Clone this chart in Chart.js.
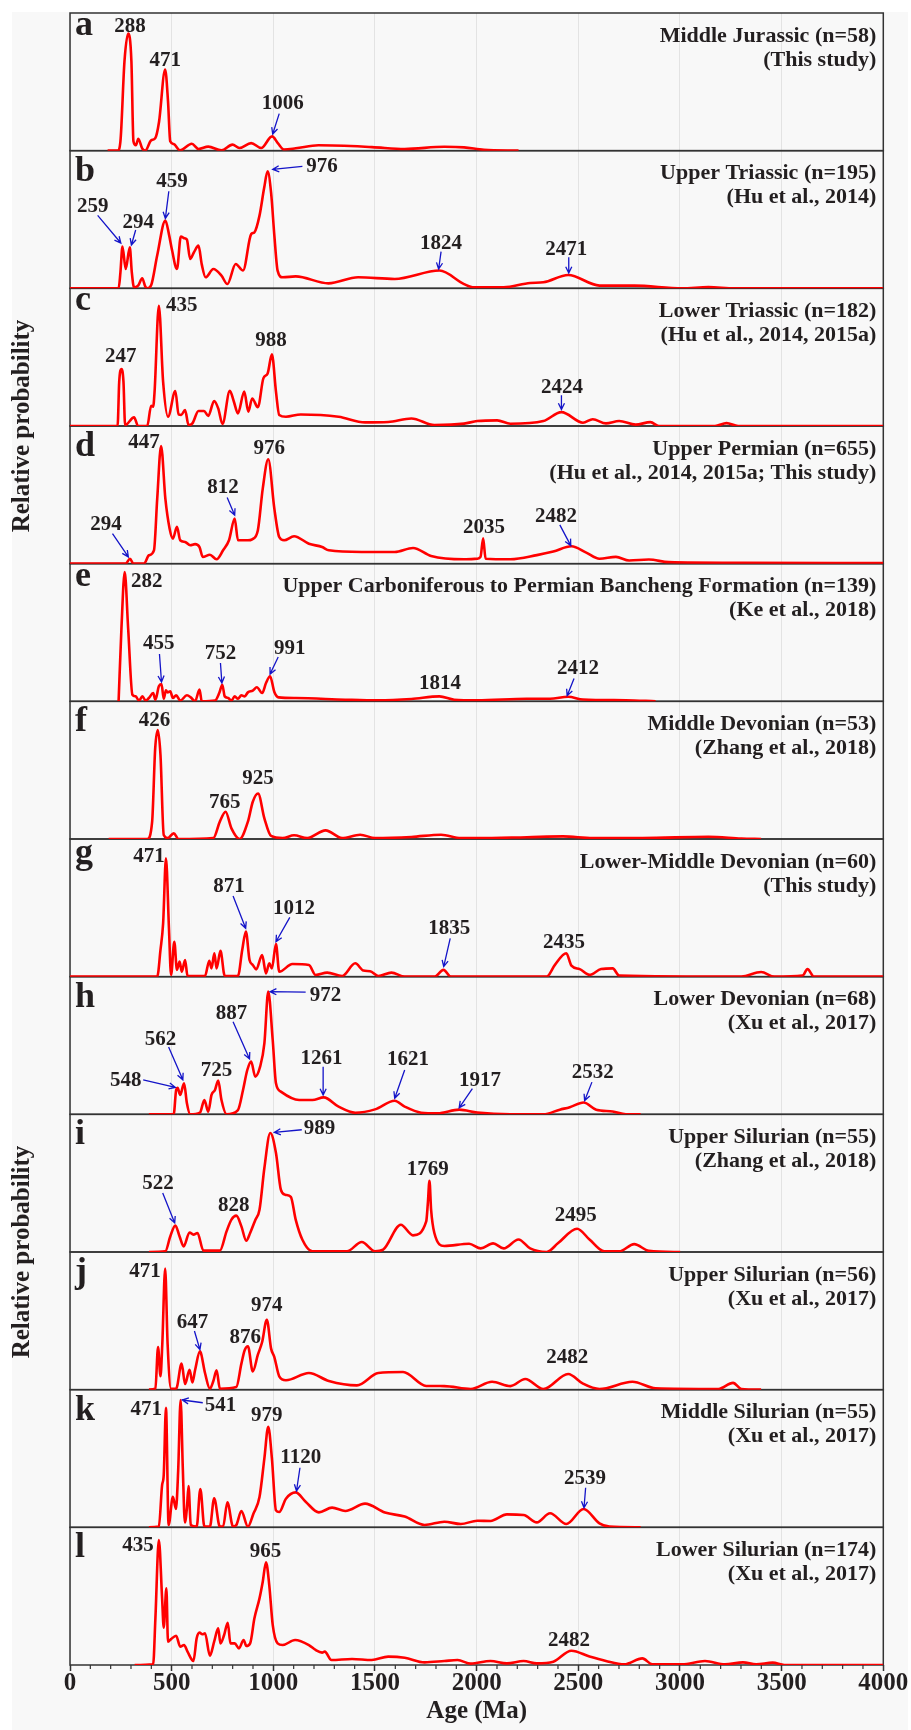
<!DOCTYPE html>
<html>
<head>
<meta charset="utf-8">
<script src="https://cdn.jsdelivr.net/npm/chart.js@4.4.1/dist/chart.umd.min.js"></script>
<style>
  html, body { margin: 0; padding: 0; background: #fff; }
  canvas { display: block; }
</style>
</head>
<body>
<canvas id="agesChart" width="911" height="1730"></canvas>
<script>
// edades (Ma) y probabilidad relativa (% de la altura del panel)
const ageA = [185,234,248,268,286,302,312,324,336,355,370,399,419,438,468,482,493,510,541,599,632,680,745,799,833,891,940,994,1023,1052,1110,1222,1485,1646,1841,1938,2036,2206];
const probA = [0,0,6.8,65,85,65,6.8,3.9,8.7,1.7,0,7.5,9,21,59,36,6.8,4.8,0.2,5,1.2,2.9,0.2,4.4,1.9,5.5,1.9,10.4,5.3,0.9,1.7,3.9,2.6,1.2,2.8,2.4,0.6,0];

const ageB = [0,239,248,258,274,294,304,315,336,355,370,380,399,429,469,487,502,526,545,565,575,591,609,632,648,667,705,745,774,815,851,891,907,932,955,972,989,1005,1021,1046,1110,1271,1417,1597,1817,1938,1987,2133,2263,2328,2450,2604,2775,3010,3140,3268,4000];
const probB = [0,0,11.6,30.3,14,29.8,11.6,0.7,2.2,7.3,1.5,0,2.2,24,49.2,39,27.6,14,37.6,36.3,35.4,21.3,26,31,17.4,8,14,9.2,3.1,17.7,12.9,39.4,40.7,52.8,73,85,69.5,38.5,12.9,8,8.7,3.6,8,6.8,12.9,3.1,0.7,0.7,3.9,4.4,9.7,2,2,0,0.9,0,0];

const ageC = [0,234,242,253,263,271,315,335,380,399,409,416,437,458,482,518,534,547,566,583,602,632,659,680,709,729,750,786,805,826,857,877,896,924,951,972,993,1013,1029,1062,1135,1321,1451,1565,1679,1792,1938,2003,2101,2166,2328,2417,2523,2571,2636,2701,2782,2855,2896,3172,3229,3286,4000];
const probC = [0,0,32,41.4,32,0.7,6.3,0,0,14.7,14,25,87.4,32,6.7,25.4,8.4,8,11.6,0.7,1.9,10.9,10.9,7.3,18.2,12.8,1.5,25.6,18.2,9.2,25,10.4,20,13.6,34.6,38.2,52,25,8,6.7,8.4,6.7,2.6,2.9,5.5,0.7,1.7,3.6,4.1,1.6,3.6,10.1,2.4,4.9,1.9,3.6,1,2.8,0,0,2.1,0,0];

const ageD = [0,274,295,312,364,388,413,429,448,469,490,506,526,542,566,591,615,637,653,688,721,753,782,810,826,851,875,896,924,948,975,1005,1029,1053,1102,1175,1240,1273,1435,1597,1687,1776,1938,2003,2019,2032,2044,2166,2296,2377,2466,2539,2604,2685,2750,2847,2945,3302,4000];
const probD = [0,0,3.6,0,0,6.1,9.7,47.2,85.5,47.2,25.4,18.2,26.7,17,15.8,13.4,14.2,12.1,4.9,6.5,3.2,9.7,17,32.7,17,17,17,17.7,24.3,54.5,75.8,40,19.4,17,19.9,14.5,12.1,9.7,8.5,8.5,11.4,5.6,3.2,3.6,4.9,18.4,3.6,3.2,6.2,8.8,12.6,8,3.6,4.9,2.3,3,1.1,0.6,0.5];

const ageE = [239,253,269,286,307,323,339,356,372,388,409,420,437,450,461,472,480,493,506,522,542,575,594,615,637,648,713,734,749,761,778,794,810,826,843,859,875,899,919,945,964,984,1005,1026,1110,1354,1516,1679,1817,1890,2003,2247,2361,2450,2523,2734,2880];
const probE = [0,53,94,53,4.8,3.6,0.5,3.6,0.5,2.4,6,1.2,10.9,12.6,1.9,8,6.5,7.3,2.4,4.4,0.5,4.4,2.9,0,8.5,0,0.5,6,12.1,3.6,2.4,0.5,3.6,1.9,4.4,3.6,6.5,7.8,10.2,6,13.3,18.2,6.8,2.9,2.4,1.2,0.7,1.7,3.6,1.2,0.8,1.9,1.9,3.3,1.3,0.8,0];

const ageF = [190,380,404,419,432,445,461,481,510,534,705,737,765,794,834,875,899,925,956,989,1046,1102,1167,1257,1338,1427,1500,1679,1825,1922,2003,2247,2425,2571,2815,3140,3302,3399];
const probF = [0,0,12.6,65.8,79.2,61,2.9,0.7,4.1,0,0.7,12.6,19.8,7.7,0,12.6,27.1,33.1,15,2.2,0.7,2.7,0.7,6.3,0.7,3.1,0.7,1.5,3.1,0.7,0.6,1.3,1.9,0.7,0.7,1.6,0.4,0];

const ageG = [0,429,445,458,472,487,497,513,526,539,550,566,578,664,685,696,710,721,740,761,826,847,865,883,899,916,945,964,980,993,1013,1029,1094,1175,1208,1265,1338,1403,1443,1476,1516,1581,1646,1792,1837,1873,2344,2385,2441,2466,2507,2555,2612,2669,2701,3302,3399,3464,3603,3627,3659,4000];
const probG = [0,0,19.4,38.7,85.9,33.9,1.2,25.4,4.9,10.9,3.6,12.1,0.5,0.5,11.6,6,16.9,6,18.7,0.5,0.5,19.4,32.7,12.1,8.5,5.3,15.7,2.4,9.7,6,23.7,3.6,9.2,8.5,1.2,2.9,0.5,9.7,4.4,3.9,0.5,2.9,0,0,4.9,0,0,8.6,17,8,5.5,1.3,5.5,6,0.8,0,3.4,0,0.8,5.5,0,0];

const ageH = [388,510,522,529,542,561,575,591,639,661,680,696,713,729,745,770,826,851,872,891,911,935,956,975,997,1013,1037,1127,1192,1248,1321,1403,1500,1597,1646,1727,1808,1914,2003,2166,2328,2409,2458,2526,2588,2669,2734,2807];
const probH = [0,0,17.7,19.2,14.1,22.5,8,0,1.2,10.4,1.9,14.1,17.7,24.5,10.4,0,3.1,17.7,32.2,38.3,27.4,34.6,51.6,89.1,54,22.5,16.5,10.4,10.4,12.3,5.6,1.2,3.6,9.9,5.6,1.2,0.7,3.4,1.3,0,0,3.4,5.2,8.6,3.4,2.1,0,0];

const ageI = [388,469,493,518,539,559,588,607,627,656,737,770,794,818,843,867,886,912,932,956,985,1013,1037,1058,1086,1110,1143,1192,1362,1435,1500,1540,1627,1687,1752,1760,1768,1776,1792,1841,1963,2020,2081,2133,2206,2263,2344,2401,2494,2555,2628,2701,2775,2847,3001];
const probI = [0,0.5,11.3,19.3,11.3,4.1,14.2,12.6,13.8,1,1,15,23.5,26.4,18.6,8.2,13.8,23.5,30.7,61,86.4,71.9,45.3,41.6,40,23.5,8.9,0.5,0.5,7.3,0.5,1.7,19.8,12.1,22.2,35.5,51.8,30.7,13.8,4.4,6,2.6,6.3,2.6,9.1,2.6,0,6.5,16.9,9.1,0.5,0.5,5.7,0.8,0];

const ageJ = [388,420,433,445,454,468,480,497,522,549,566,588,602,615,639,664,688,705,721,737,818,843,859,875,899,924,945,968,989,1005,1029,1062,1175,1273,1411,1516,1638,1752,1841,1971,2076,2166,2239,2328,2450,2523,2604,2766,2880,3189,3261,3302,3399];
const probJ = [0,0.7,31,9.7,33.4,87.9,33.4,0.7,0.7,18.9,4.1,14.5,5.3,14.1,27.8,12.1,0.7,6.3,14.1,0.7,1.9,18.9,28.6,31.5,13.3,25.4,34.6,50.8,29.8,23.7,9.7,6.8,12.1,6.3,3.1,12.1,12.8,2.7,2.6,0.5,5.7,2.6,7.8,0.5,11.4,4.4,0.5,5.7,1,0.5,4.9,0.5,0];

const ageK = [388,437,453,461,472,485,506,521,532,544,555,565,575,583,594,623,641,661,688,709,737,753,774,802,818,843,875,902,932,956,975,993,1013,1029,1062,1110,1159,1224,1289,1354,1451,1549,1646,1744,1841,1922,2003,2068,2149,2231,2296,2361,2441,2526,2604,2653,2807];
const probK = [0,0.5,30.7,38,86.9,1.7,22.2,13.3,41,92.5,42,3.6,14,30,1.7,0.5,27.8,0.5,0.5,21.1,0.5,0.5,18.2,0.5,1.7,11.8,0.5,9.9,22,50.1,73.1,50.1,12.3,11.1,20.8,25.4,18.6,10.9,14.3,11.9,17.2,10.7,7.8,1.7,4.1,2.4,4.8,4.6,9.4,9,3.6,10.2,2.4,13.3,2.9,0.5,0];

const ageL = [318,409,420,437,453,461,474,482,497,522,542,561,578,607,623,637,651,664,688,709,729,740,758,776,789,810,831,854,867,886,907,932,948,964,980,997,1021,1046,1107,1175,1208,1240,1253,1286,1387,1484,1565,1646,1744,1841,1906,1971,2068,2149,2231,2296,2377,2466,2555,2636,2726,2815,2864,3010,3123,3221,3310,3375,3456,3513,4000];
const probL = [0,0.5,33.9,90.8,48.4,27.1,55.7,16.9,18.8,21.3,13.3,14.5,9.7,2.9,19.4,23.5,22.3,23,6.8,16.9,26.6,15.7,21.8,30.7,15.7,15.7,12.1,18.2,13.8,15.7,33.9,48.4,60.5,74.6,58.1,29.1,15.7,14.5,18.2,14.5,10.9,9,9.7,3.6,4.4,3.6,6.1,5.3,1.9,2.9,3.6,1,2.9,1.2,2.9,1.2,2.4,10.4,6.1,2.9,0.5,4.8,0.5,0.5,2.9,0.5,1.9,0.5,1.7,0,0];

const panelLetters = ['a','b','c','d','e','f','g','h','i','j','k','l'];
const panelTitles = [
    ['Middle Jurassic (n=58)', '(This study)'],
    ['Upper Triassic (n=195)', '(Hu et al., 2014)'],
    ['Lower Triassic (n=182)', '(Hu et al., 2014, 2015a)'],
    ['Upper Permian (n=655)', '(Hu et al., 2014, 2015a; This study)'],
    ['Upper Carboniferous to Permian Bancheng Formation (n=139)', '(Ke et al., 2018)'],
    ['Middle Devonian (n=53)', '(Zhang et al., 2018)'],
    ['Lower-Middle Devonian (n=60)', '(This study)'],
    ['Lower Devonian (n=68)', '(Xu et al., 2017)'],
    ['Upper Silurian (n=55)', '(Zhang et al., 2018)'],
    ['Upper Silurian (n=56)', '(Xu et al., 2017)'],
    ['Middle Silurian (n=55)', '(Xu et al., 2017)'],
    ['Lower Silurian (n=174)', '(Xu et al., 2017)']
];
const ageTicks = [0, 500, 1000, 1500, 2000, 2500, 3000, 3500, 4000];

// etiquetas de los picos: texto, centro (edad, %) y flecha opcional desde/hasta
const peakNotes = [
    [{t:'288',x:295,y:91},{t:'471',x:469,y:66.8},{t:'1006',x:1046,y:35.3,from:[1029,26.9],to:[997,12.1]}],
    [{t:'259',x:112,y:60.3,from:[136,53],to:[250,32.9]},{t:'294',x:336,y:49.2,from:[323,42.4],to:[302,31.5]},
     {t:'459',x:502,y:79,from:[486,70.5],to:[469,50.8]},{t:'976',x:1240,y:89.3,from:[1143,88.6],to:[997,86.4]},
     {t:'1824',x:1825,y:33.9,from:[1825,26.7],to:[1813,14]},{t:'2471',x:2441,y:29,from:[2453,22.5],to:[2453,11.1]}],
    [{t:'247',x:250,y:51.6},{t:'435',x:550,y:88.3},{t:'988',x:989,y:62.9},{t:'2424',x:2420,y:29,from:[2417,22.3],to:[2417,11.9]}],
    [{t:'294',x:177,y:29.8,from:[209,21.8],to:[287,4.9]},{t:'447',x:364,y:88.9},{t:'812',x:753,y:56.4,from:[773,48],to:[810,35.2]},
     {t:'976',x:980,y:84.4},{t:'2035',x:2036,y:27},{t:'2482',x:2390,y:35.4,from:[2409,28.2],to:[2463,13.1]}],
    [{t:'282',x:377,y:87.9},{t:'455',x:437,y:42.9,from:[440,34.4],to:[450,14]},{t:'752',x:740,y:35.6,from:[740,27.8],to:[747,13.3]},
     {t:'991',x:1081,y:39.2,from:[1024,32.2],to:[984,19.8]},{t:'1814',x:1820,y:14},{t:'2412',x:2498,y:24.9,from:[2479,16.6],to:[2445,4.1]}],
    [{t:'426',x:416,y:87.2},{t:'765',x:761,y:27.6},{t:'925',x:925,y:45.2}],
    [{t:'471',x:388,y:88.4},{t:'871',x:782,y:66.6,from:[802,58.6],to:[864,35.1]},{t:'1012',x:1102,y:50.8,from:[1081,43.1],to:[1013,25.4]},
     {t:'1835',x:1865,y:36.3,from:[1870,27.8],to:[1838,7.3]},{t:'2435',x:2429,y:25.9}],
    [{t:'548',x:274,y:25.7,from:[360,25],to:[518,19.6]},{t:'562',x:445,y:55.4,from:[485,48.9],to:[555,25.1]},{t:'725',x:721,y:32.7},
     {t:'887',x:794,y:74.6,from:[802,67.3],to:[883,40.2]},{t:'972',x:1256,y:87.3,from:[1159,88.8],to:[984,89.1]},
     {t:'1261',x:1237,y:41.9,from:[1245,34.6],to:[1245,14]},{t:'1621',x:1662,y:40.7,from:[1646,32.2],to:[1597,11.7]},
     {t:'1917',x:2016,y:26,from:[1979,18.7],to:[1914,4.7]},{t:'2532',x:2571,y:31.5,from:[2567,23.4],to:[2531,9.9]}],
    [{t:'522',x:433,y:50.6,from:[456,42.9],to:[515,21.1]},{t:'828',x:805,y:34.9},{t:'989',x:1227,y:90.8,from:[1140,88.8],to:[1005,86.9]},
     {t:'1769',x:1760,y:61},{t:'2495',x:2487,y:27.9}],
    [{t:'471',x:369,y:86.7},{t:'647',x:602,y:49.6,from:[612,42.6],to:[639,29.1]},{t:'876',x:862,y:38.7},{t:'974',x:968,y:62.5},{t:'2482',x:2446,y:24.4}],
    [{t:'471',x:375,y:86.4},{t:'541',x:740,y:89.6,from:[653,90.5],to:[552,92.5]},{t:'979',x:968,y:82.1},
     {t:'1120',x:1135,y:51.8,from:[1131,43.3],to:[1114,26.4]},{t:'2539',x:2533,y:36.3,from:[2536,28.8],to:[2528,14.2]}],
    [{t:'435',x:334,y:87.7},{t:'965',x:961,y:83.5},{t:'2482',x:2454,y:18.9}]
];

const series = [
    [ageA, probA], [ageB, probB], [ageC, probC], [ageD, probD], [ageE, probE], [ageF, probF],
    [ageG, probG], [ageH, probH], [ageI, probI], [ageJ, probJ], [ageK, probK], [ageL, probL]
];

const SERIF = '"Liberation Serif", "Times New Roman", serif';
const TEXT_COLOR = '#231f20';
const ARROW_COLOR = '#1414c8';

// un eje y apilado por panel
const scales = {
    x: {
        type: 'linear', position: 'bottom', min: 0, max: 4000,
        afterBuildTicks: (axis) => { axis.ticks = ageTicks.map(v => ({value: v})); },
        ticks: {
            autoSkip: false, maxRotation: 0, padding: 0, color: TEXT_COLOR,
            font: {family: SERIF, size: 25, weight: 'bold', lineHeight: 1},
            callback: (value) => String(value)
        },
        grid: {color: '#e3e3e3', lineWidth: 1, tickLength: 6, tickColor: '#333', tickWidth: 1.5},
        border: {display: false},
        title: {
            display: true, text: 'Age (Ma)', color: TEXT_COLOR,
            font: {family: SERIF, size: 25, weight: 'bold', lineHeight: 1},
            padding: {top: 3.5, bottom: 0}
        }
    }
};
series.forEach((s, i) => {
    scales['y' + i] = {
        type: 'linear', position: 'left', stack: 'panels', stackWeight: 1,
        weight: series.length - i,
        min: 0, max: 100,
        ticks: {display: false}, grid: {display: false}, border: {display: false}
    };
});

const datasets = series.map(([ages, probs], i) => ({
    data: ages.map((a, k) => ({x: a, y: probs[k]})),
    yAxisID: 'y' + i,
    xAxisID: 'x',
    borderColor: '#ff0000',
    borderWidth: 2.6,
    borderJoinStyle: 'round',
    pointRadius: 0,
    fill: false,
    cubicInterpolationMode: 'monotone'
}));

function drawArrow(ctx, x1, y1, x2, y2) {
    const ang = Math.atan2(y2 - y1, x2 - x1);
    const len = 7;
    ctx.beginPath();
    ctx.moveTo(x1, y1);
    ctx.lineTo(x2, y2);
    ctx.moveTo(x2 - len * Math.cos(ang - 0.45), y2 - len * Math.sin(ang - 0.45));
    ctx.lineTo(x2, y2);
    ctx.lineTo(x2 - len * Math.cos(ang + 0.45), y2 - len * Math.sin(ang + 0.45));
    ctx.stroke();
}

const decorPlugin = {
    id: 'decor',
    beforeDraw(chart) {
        const ctx = chart.ctx;
        ctx.save();
        ctx.fillStyle = '#ffffff';
        ctx.fillRect(0, 0, chart.width, chart.height);
        ctx.fillStyle = '#f8f8f8';
        ctx.fillRect(12, 12, chart.width - 15, chart.height - 12);
        ctx.restore();
    },
    beforeDatasetsDraw(chart) {
        const ctx = chart.ctx;
        const area = chart.chartArea;
        ctx.save();
        ctx.strokeStyle = '#333333';
        ctx.lineWidth = 1.5;
        series.forEach((s, i) => {
            const ys = chart.scales['y' + i];
            ctx.strokeRect(area.left, ys.top, area.right - area.left, ys.bottom - ys.top);
        });
        ctx.restore();
    },
    afterDraw(chart) {
        const ctx = chart.ctx;
        const area = chart.chartArea;
        const xs = chart.scales.x;
        ctx.save();

        // ticks menores cada 100 Ma
        ctx.strokeStyle = '#333';
        ctx.lineWidth = 1.2;
        for (let v = 100; v < 4000; v += 100) {
            if (v % 500 === 0) continue;
            const px = xs.getPixelForValue(v);
            ctx.beginPath();
            ctx.moveTo(px, area.bottom);
            ctx.lineTo(px, area.bottom + 4);
            ctx.stroke();
        }

        ctx.fillStyle = TEXT_COLOR;
        series.forEach((s, i) => {
            const ys = chart.scales['y' + i];
            // letra del panel
            ctx.font = 'bold 36px ' + SERIF;
            ctx.textAlign = 'left';
            ctx.textBaseline = 'alphabetic';
            const m = ctx.measureText(panelLetters[i]);
            ctx.fillText(panelLetters[i], area.left + 5, ys.top + 5 + m.actualBoundingBoxAscent);

            // titulo a la derecha
            ctx.font = 'bold 22px ' + SERIF;
            ctx.textAlign = 'right';
            ctx.fillText(panelTitles[i][0], area.right - 7, ys.top + 28.5);
            ctx.fillText(panelTitles[i][1], area.right - 7, ys.top + 52.5);

            // picos
            ctx.font = 'bold 21px ' + SERIF;
            ctx.textAlign = 'center';
            peakNotes[i].forEach(n => {
                ctx.fillStyle = TEXT_COLOR;
                ctx.fillText(n.t, xs.getPixelForValue(n.x), ys.getPixelForValue(n.y) + 7);
                if (n.from) {
                    ctx.strokeStyle = ARROW_COLOR;
                    ctx.lineWidth = 1.3;
                    drawArrow(ctx,
                        xs.getPixelForValue(n.from[0]), ys.getPixelForValue(n.from[1]),
                        xs.getPixelForValue(n.to[0]), ys.getPixelForValue(n.to[1]));
                }
            });
        });

        // titulos del eje y
        ctx.fillStyle = TEXT_COLOR;
        ctx.font = 'bold 25px ' + SERIF;
        ctx.textAlign = 'center';
        ctx.textBaseline = 'middle';
        const halves = [[0, 5], [6, 11]];
        halves.forEach(([a, b]) => {
            const mid = (chart.scales['y' + a].top + chart.scales['y' + b].bottom) / 2;
            ctx.save();
            ctx.translate(23, mid);
            ctx.rotate(-Math.PI / 2);
            ctx.fillText('Relative probability', 0, 0);
            ctx.restore();
        });
        ctx.restore();
    }
};

const ctx = document.getElementById('agesChart').getContext('2d');
const agesChart = new Chart(ctx, {
    type: 'line',
    data: {datasets: datasets},
    options: {
        responsive: false,
        animation: false,
        devicePixelRatio: 1,
        layout: {padding: {left: 62, right: 27.7, top: 13, bottom: 5.5}},
        plugins: {legend: {display: false}, tooltip: {enabled: false}},
        scales: scales
    },
    plugins: [decorPlugin]
});
</script>
</body>
</html>
